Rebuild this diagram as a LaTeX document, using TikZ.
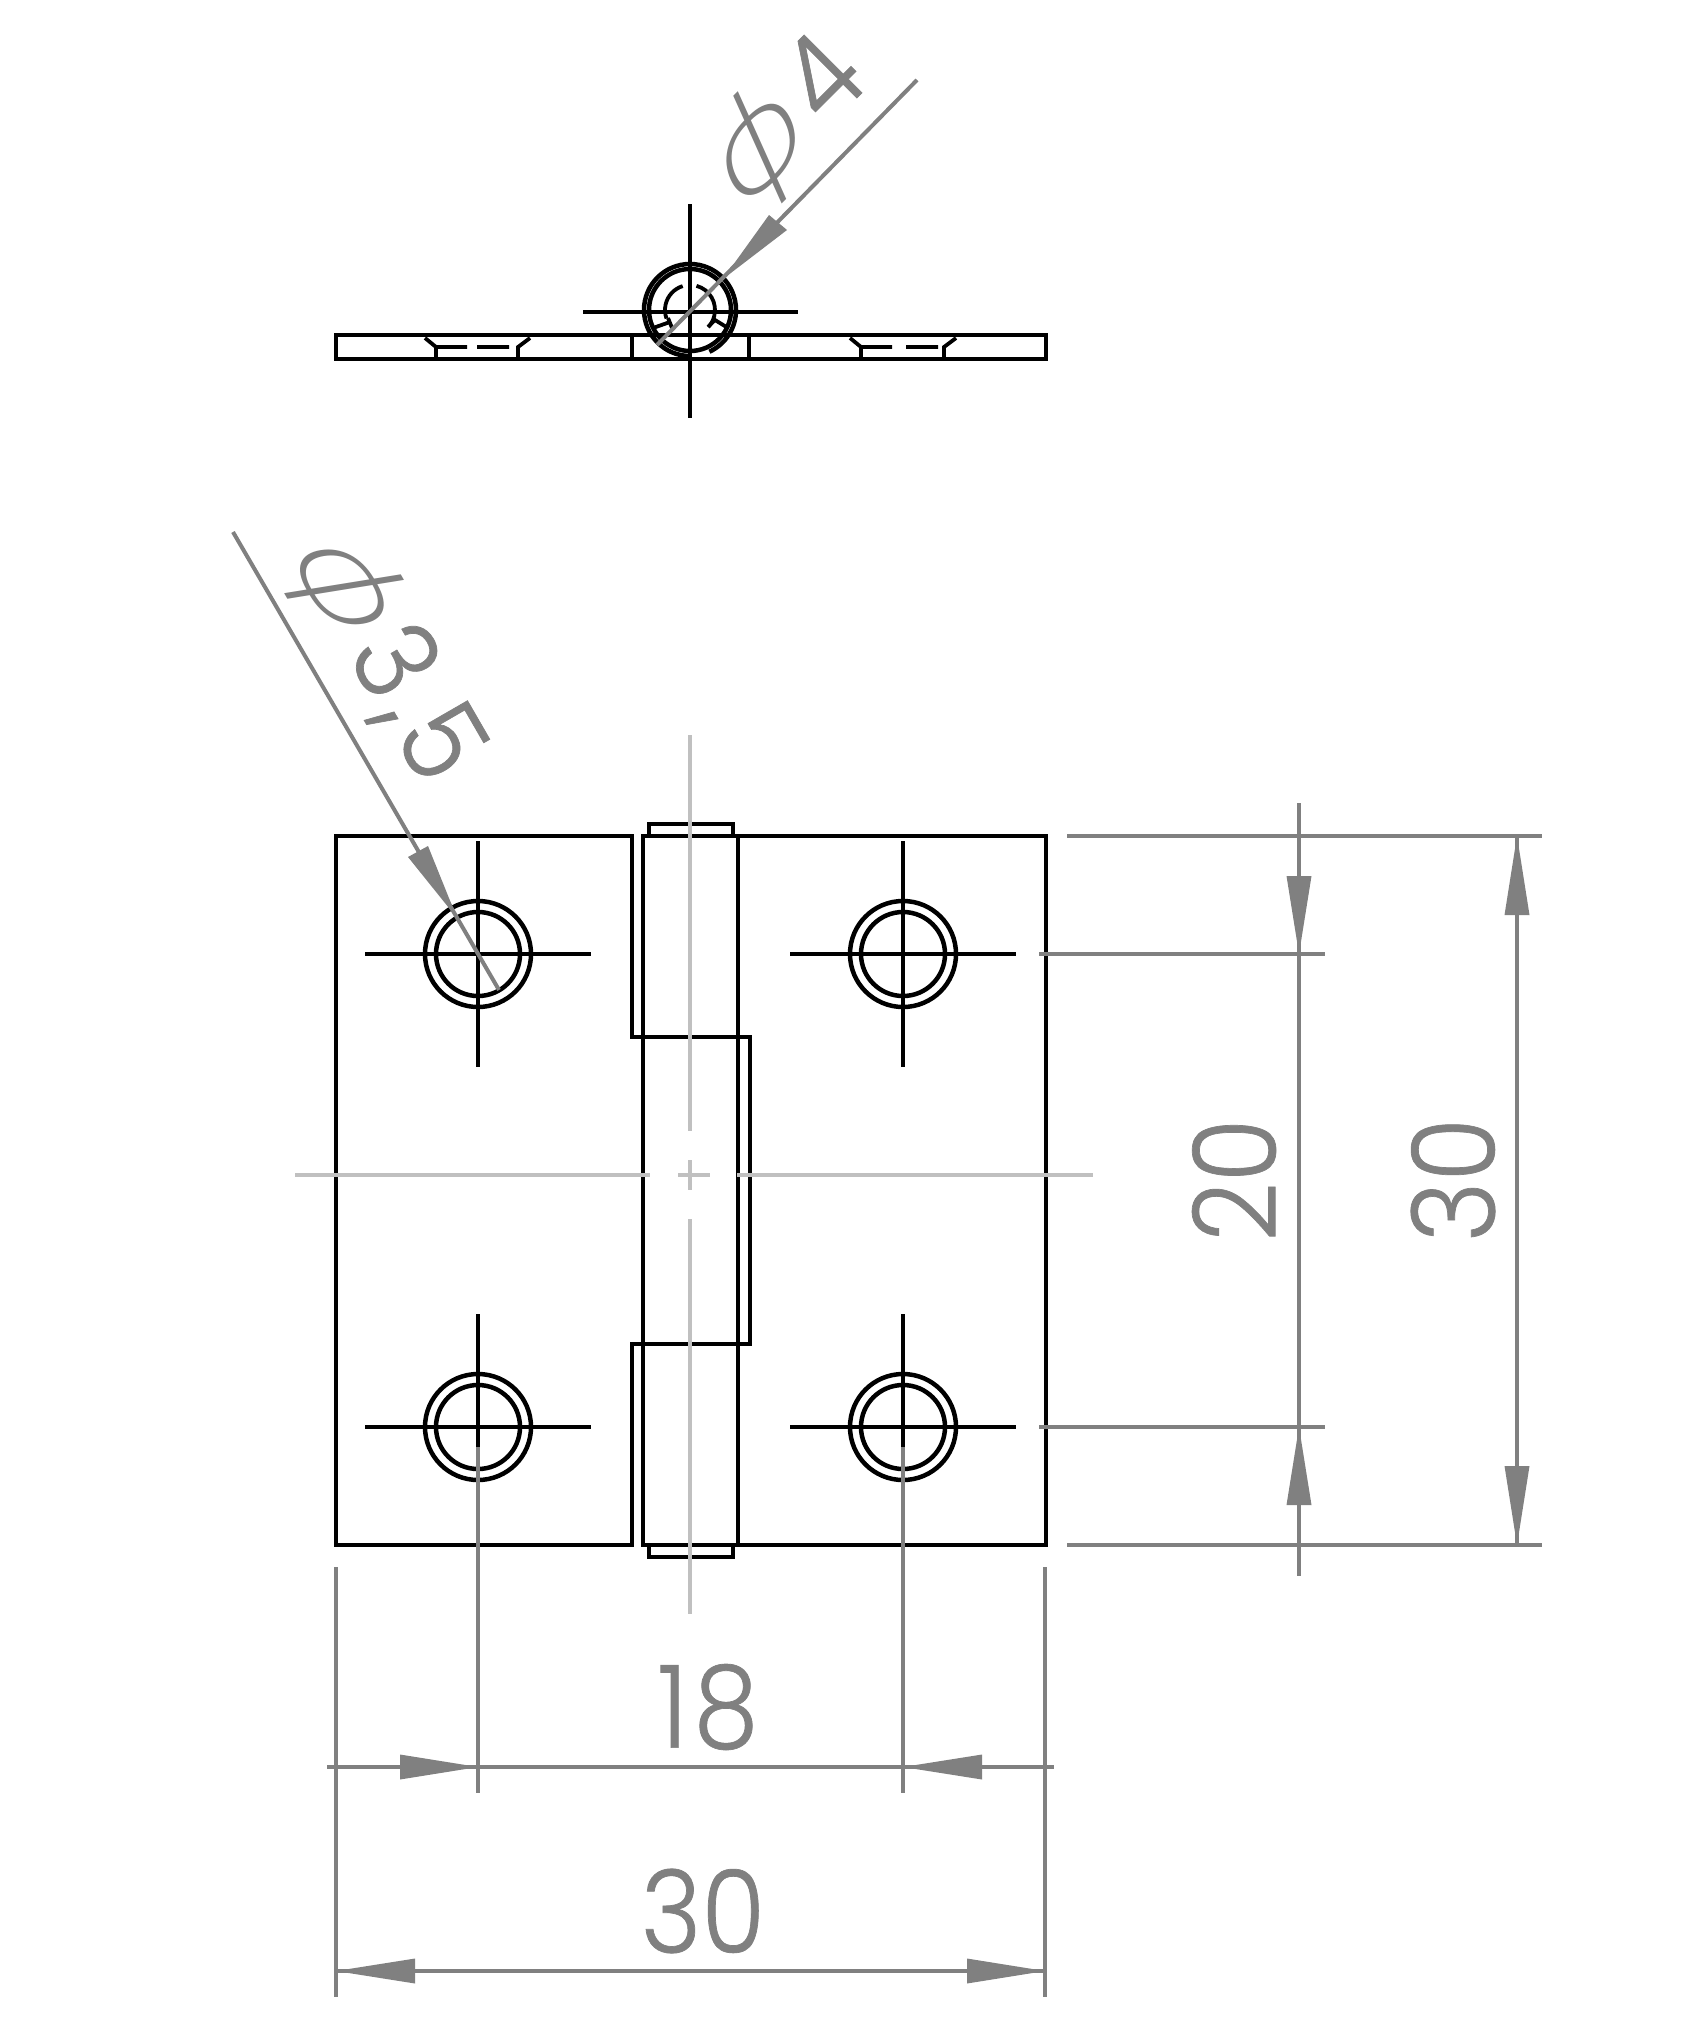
\documentclass[tikz,border=0pt]{standalone}
\usepackage{fontspec}
\newfontfamily\dimf[UprightFont=* Light,FakeStretch=0.9,FakeBold=0.6]{Poppins}
\newfontfamily\phif[UprightFont=* Light,FakeSlant=0.38,FakeStretch=1.15]{Lato}
\definecolor{dimgrey}{HTML}{808080}
\definecolor{cgrey}{HTML}{C0C0C0}
\tikzset{
  part/.style={draw=black,line width=4.5pt,line cap=rect,line join=miter},
  thinpart/.style={draw=black,line width=3.8pt},
  dimline/.style={draw=dimgrey,line width=4pt},
  centreline/.style={draw=cgrey,line width=3.6pt},
  tip/.style={fill=dimgrey,draw=none},
  dimtext/.style={text=dimgrey,inner sep=0pt,font=\dimf\fontsize{115}{115}\selectfont},
}
\begin{document}
\begin{tikzpicture}[x=1pt,y=-1pt]
\useasboundingbox (0,0) rectangle (1681,2023);
\fill[white] (0,0) rectangle (1681,2023);

% ---------- top view ----------
\draw[part] (336,335) rectangle (1046,359);
\draw[part] (632,335) -- (632,359) (749,335) -- (749,359);
\draw[thinpart] (425,338) -- (436,347) -- (436,359)
  (436,347) -- (467,347) (477,347) -- (509,347)
  (518,359) -- (518,347) -- (530,338);
\draw[thinpart] (850,338) -- (861,347) -- (861,359)
  (861,347) -- (892,347) (906,347) -- (938,347)
  (944,359) -- (944,347) -- (956,338);
\draw[part,line cap=butt] (690,310) ++(90:46) arc[start angle=90,end angle=425,radius=46];
\draw[part] (690,310) circle[radius=41];
\draw[thinpart] (690,310) ++(-107:25) arc[start angle=-107,end angle=-200,radius=25];
\draw[thinpart] (690,310) ++(-75:25) arc[start angle=-75,end angle=43,radius=25];
\draw[thinpart] (668,318) -- (672,328) (653,328) -- (670,322);
\draw[thinpart] (708,327) -- (715,320) -- (728,328);
\draw[thinpart] (690,204) -- (690,418) (583,312) -- (798,312);

% ---------- front view: leaves and knuckles ----------
\draw[part] (632,836) -- (336,836) -- (336,1545) -- (632,1545) -- (632,1344) -- (750,1344) -- (750,1037) -- (632,1037) -- cycle;
\draw[part] (643,1545) -- (643,836) -- (1046,836) -- (1046,1545) -- (643,1545);
\draw[part] (738,836) -- (738,1545);
\draw[part] (649,836) -- (649,824) -- (733,824) -- (733,836);
\draw[part] (649,1545) -- (649,1557) -- (733,1557) -- (733,1545);

% ---------- holes ----------
\foreach \hx/\hy in {478/954,903/954,478/1427,903/1427}{
  \draw[part] (\hx,\hy) circle[radius=53];
  \draw[part] (\hx,\hy) circle[radius=42];
  \draw[thinpart] (\hx-113,\hy) -- (\hx+113,\hy) (\hx,\hy-113) -- (\hx,\hy+113);
}

% ---------- centre lines ----------
\draw[centreline] (690,735) -- (690,1131) (690,1160) -- (690,1190) (690,1219) -- (690,1614);
\draw[centreline] (295,1175) -- (650,1175) (678,1175) -- (710,1175) (737,1175) -- (1093,1175);

% ---------- right dimensions ----------
\draw[dimline] (1067,836) -- (1542,836) (1067,1545) -- (1542,1545);
\draw[dimline] (1039,954) -- (1325,954) (1039,1427) -- (1325,1427);
\draw[dimline] (1299,803) -- (1299,1576);
\draw[dimline] (1517,836) -- (1517,1545);
\fill[tip] (1299,954) -- (1286.5,876) -- (1311.5,876) -- cycle;
\fill[tip] (1299,1427) -- (1286.5,1505) -- (1311.5,1505) -- cycle;
\fill[tip] (1517,836) -- (1504.5,915) -- (1529.5,915) -- cycle;
\fill[tip] (1517,1545) -- (1504.5,1466) -- (1529.5,1466) -- cycle;
\node[dimtext,rotate=90] (dimtwenty) at (1234,1180) {20};
\node[dimtext,rotate=90] (dimthirtyv) at (1453,1180) {30};

% ---------- bottom dimensions ----------
\draw[dimline] (336,1567) -- (336,1997) (1045,1567) -- (1045,1997);
\draw[dimline] (478,1447) -- (478,1793) (903,1447) -- (903,1793);
\draw[dimline] (327,1767) -- (1054,1767);
\draw[dimline] (336,1971) -- (1045,1971);
\fill[tip] (478,1767) -- (400,1754.5) -- (400,1779.5) -- cycle;
\fill[tip] (903,1767) -- (982,1754.5) -- (982,1779.5) -- cycle;
\fill[tip] (336,1971) -- (415,1958.5) -- (415,1983.5) -- cycle;
\fill[tip] (1045,1971) -- (967,1958.5) -- (967,1983.5) -- cycle;
\node[dimtext] (dimeighteen) at (708,1707) {1\hspace{6pt}8};
\node[dimtext] (dimthirtyh) at (703,1911) {30};

% ---------- diameter leaders ----------
\coordinate (leadA) at (233,532);
\coordinate (endA) at (499,990);
\draw[dimline] (leadA) -- (endA);
\fill[tip] (457,918) -- (408,857) -- (428,846) -- cycle;
\node[dimtext,rotate=-60] (diamA) at (383,653) {{\phif\fontsize{125}{125}\selectfont ϕ\hspace{21pt}}3\hspace{7pt},\hspace{7pt}5};

\coordinate (leadB) at (917,80);
\coordinate (endB) at (657,345);
\draw[dimline] (leadB) -- (endB);
\fill[tip] (723,279) -- (769,215) -- (787,230) -- cycle;
\node[dimtext,rotate=45] (diamB) at (782,126) {{\phif\fontsize{125}{125}\selectfont ϕ\hspace{24pt}}4};
\end{tikzpicture}
\end{document}
